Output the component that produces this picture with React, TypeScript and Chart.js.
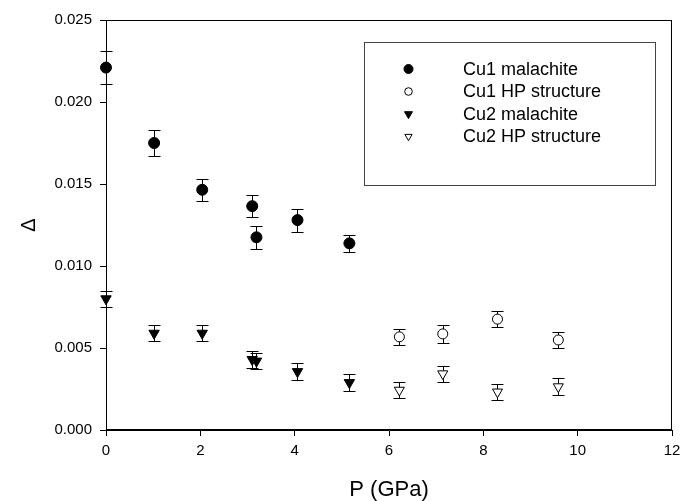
import React, { useEffect, useRef } from 'react';
import { Chart, registerables } from 'chart.js';

Chart.register(...registerables);

// ---- Data ----
const seriesLabels = ['Cu1 malachite', 'Cu1 HP structure', 'Cu2 malachite', 'Cu2 HP structure'];

const pressureMal = [0, 1.02, 2.04, 3.1, 3.19, 4.06, 5.16];
const cu1Mal = [0.0221, 0.0175, 0.01465, 0.01365, 0.01175, 0.0128, 0.01138];
const cu1MalErr = [0.00098, 0.00078, 0.00068, 0.00068, 0.0007, 0.0007, 0.00051];
const cu2Mal = [0.008, 0.0059, 0.0059, 0.0043, 0.0042, 0.00356, 0.00289];
const cu2MalErr = [0.0005, 0.0005, 0.0005, 0.0005, 0.0005, 0.00051, 0.00051];

const pressureHP = [6.22, 7.14, 8.3, 9.59];
const cu1HP = [0.00568, 0.00586, 0.00676, 0.00549];
const cu1HPErr = [0.0005, 0.00054, 0.0005, 0.00051];
const cu2HP = [0.00243, 0.00343, 0.00232, 0.00264];
const cu2HPErr = [0.00048, 0.00049, 0.00049, 0.00051];

const xMin = 0;
const xMax = 12;
const xStep = 2;
const yMin = 0;
const yMax = 0.025;
const yStep = 0.005;

const xTitle = 'P (GPa)';
const yTitle = 'Δ';

const FONT = "'Liberation Sans', Arial, Helvetica, sans-serif";

const toPoints = (xs: number[], ys: number[]) => xs.map((x, i) => ({ x, y: ys[i] }));

const errorSets = [cu1MalErr, cu1HPErr, cu2MalErr, cu2HPErr];

const errorBarPlugin = {
  id: 'errorBars',
  beforeDatasetsDraw(chart: any) {
    const { ctx, scales } = chart;
    const yScale = scales.y;
    ctx.save();
    ctx.strokeStyle = '#000';
    ctx.lineWidth = 1;
    chart.data.datasets.forEach((ds: any, di: number) => {
      const meta = chart.getDatasetMeta(di);
      const errs = errorSets[di];
      meta.data.forEach((pt: any, i: number) => {
        const v = ds.data[i].y;
        const e = errs[i];
        const x = Math.round(pt.x) + 0.5;
        const yt = Math.round(yScale.getPixelForValue(v + e)) + 0.5;
        const yb = Math.round(yScale.getPixelForValue(v - e)) + 0.5;
        const cap = 6;
        ctx.beginPath();
        ctx.moveTo(x, yt);
        ctx.lineTo(x, yb);
        ctx.moveTo(x - cap, yt);
        ctx.lineTo(x + cap, yt);
        ctx.moveTo(x - cap, yb);
        ctx.lineTo(x + cap, yb);
        ctx.stroke();
      });
    });
    ctx.restore();
  },
};

const framePlugin = {
  id: 'frame',
  beforeDatasetsDraw(chart: any) {
    const { ctx, chartArea } = chart;
    ctx.save();
    ctx.strokeStyle = '#000';
    ctx.lineWidth = 1;
    ctx.strokeRect(
      Math.round(chartArea.left) + 0.5,
      Math.round(chartArea.top) + 0.5,
      Math.round(chartArea.right - chartArea.left) - 1,
      Math.round(chartArea.bottom - chartArea.top) - 1
    );
    ctx.restore();
  },
};

function drawMarker(ctx: CanvasRenderingContext2D, style: string, filled: boolean, x: number, y: number, r: number) {
  ctx.beginPath();
  if (style === 'circle') {
    ctx.arc(x, y, r, 0, Math.PI * 2);
  } else {
    // downward triangle, centroid at (x,y)
    ctx.moveTo(x, y + r);
    ctx.lineTo(x - r * Math.sin(Math.PI / 3), y - r / 2);
    ctx.lineTo(x + r * Math.sin(Math.PI / 3), y - r / 2);
    ctx.closePath();
  }
  ctx.fillStyle = filled ? '#000' : '#fff';
  ctx.fill();
  ctx.strokeStyle = '#000';
  ctx.lineWidth = 1;
  ctx.stroke();
}

const legendPlugin = {
  id: 'boxLegend',
  afterDatasetsDraw(chart: any) {
    const { ctx } = chart;
    const x0 = 364.5;
    const y0 = 42.5;
    const w = 291;
    const h = 143;
    ctx.save();
    ctx.fillStyle = '#fff';
    ctx.fillRect(x0, y0, w, h);
    ctx.strokeStyle = '#444';
    ctx.lineWidth = 1;
    ctx.strokeRect(x0, y0, w, h);
    const rows = [69, 91.5, 114, 136.5];
    const styles = ['circle', 'circle', 'triangle', 'triangle'];
    const fills = [true, false, true, false];
    const radii = [4.5, 3.8, 4.6, 4.2];
    seriesLabels.forEach((label, i) => {
      drawMarker(ctx, styles[i], fills[i], 408.5, rows[i], radii[i]);
      ctx.fillStyle = '#000';
      ctx.font = `18px ${FONT}`;
      ctx.textBaseline = 'middle';
      ctx.textAlign = 'left';
      ctx.fillText(label, 463, rows[i] + 1);
    });
    ctx.restore();
  },
};

export default function App() {
  const canvasRef = useRef<HTMLCanvasElement | null>(null);

  useEffect(() => {
    if (!canvasRef.current) return;
    const chart = new Chart(canvasRef.current, {
      type: 'scatter',
      data: {
        datasets: [
          {
            label: seriesLabels[0],
            data: toPoints(pressureMal, cu1Mal),
            pointStyle: 'circle',
            pointRadius: 5.5,
            backgroundColor: '#000',
            borderColor: '#000',
            borderWidth: 1,
            clip: false,
          },
          {
            label: seriesLabels[1],
            data: toPoints(pressureHP, cu1HP),
            pointStyle: 'circle',
            pointRadius: 5,
            backgroundColor: '#fff',
            borderColor: '#000',
            borderWidth: 1,
            clip: false,
          },
          {
            label: seriesLabels[2],
            data: toPoints(pressureMal, cu2Mal),
            pointStyle: 'triangle',
            pointRotation: 180,
            pointRadius: 6,
            backgroundColor: '#000',
            borderColor: '#000',
            borderWidth: 1,
            clip: false,
          },
          {
            label: seriesLabels[3],
            data: toPoints(pressureHP, cu2HP),
            pointStyle: 'triangle',
            pointRotation: 180,
            pointRadius: 5.8,
            backgroundColor: '#fff',
            borderColor: '#000',
            borderWidth: 1,
            clip: false,
          },
        ] as any,
      },
      options: {
        animation: false,
        responsive: true,
        maintainAspectRatio: false,
        layout: { padding: { top: 20, right: 8, left: 0, bottom: 0 } },
        plugins: {
          legend: { display: false },
          tooltip: { enabled: false },
        },
        scales: {
          x: {
            type: 'linear',
            min: xMin,
            max: xMax,
            ticks: {
              stepSize: xStep,
              color: '#000',
              font: { family: FONT, size: 15 },
              padding: 6,
              maxRotation: 0,
            },
            grid: {
              display: true,
              drawOnChartArea: false,
              drawTicks: true,
              tickLength: 6,
              color: '#000',
            },
            border: { display: true, color: '#000', width: 1 },
            title: {
              display: true,
              text: xTitle,
              color: '#000',
              font: { family: FONT, size: 22, lineHeight: 1.0 },
              padding: { top: 0, bottom: 0 },
            },
            afterFit: (scale: any) => {
              scale.height = 71;
              scale.paddingLeft = 0;
              scale.paddingRight = 0;
            },
          },
          y: {
            type: 'linear',
            min: yMin,
            max: yMax,
            ticks: {
              stepSize: yStep,
              color: '#000',
              font: { family: FONT, size: 15 },
              padding: 8,
              callback: (v: any) => Number(v).toFixed(3),
            },
            grid: {
              display: true,
              drawOnChartArea: false,
              drawTicks: true,
              tickLength: 6,
              color: '#000',
            },
            border: { display: true, color: '#000', width: 1 },
            title: {
              display: true,
              text: yTitle,
              color: '#000',
              font: { family: FONT, size: 20 },
              padding: { top: 17, bottom: 0 },
            },
            afterFit: (scale: any) => {
              scale.width = 106;
              scale.paddingTop = 0;
              scale.paddingBottom = 0;
            },
          },
        },
      } as any,
      plugins: [framePlugin, errorBarPlugin, legendPlugin],
    });
    return () => chart.destroy();
  }, []);

  return (
    <div style={{ position: 'fixed', left: 0, top: 0, width: 680, height: 501, background: '#fff' }}>
      <canvas ref={canvasRef} />
    </div>
  );
}
